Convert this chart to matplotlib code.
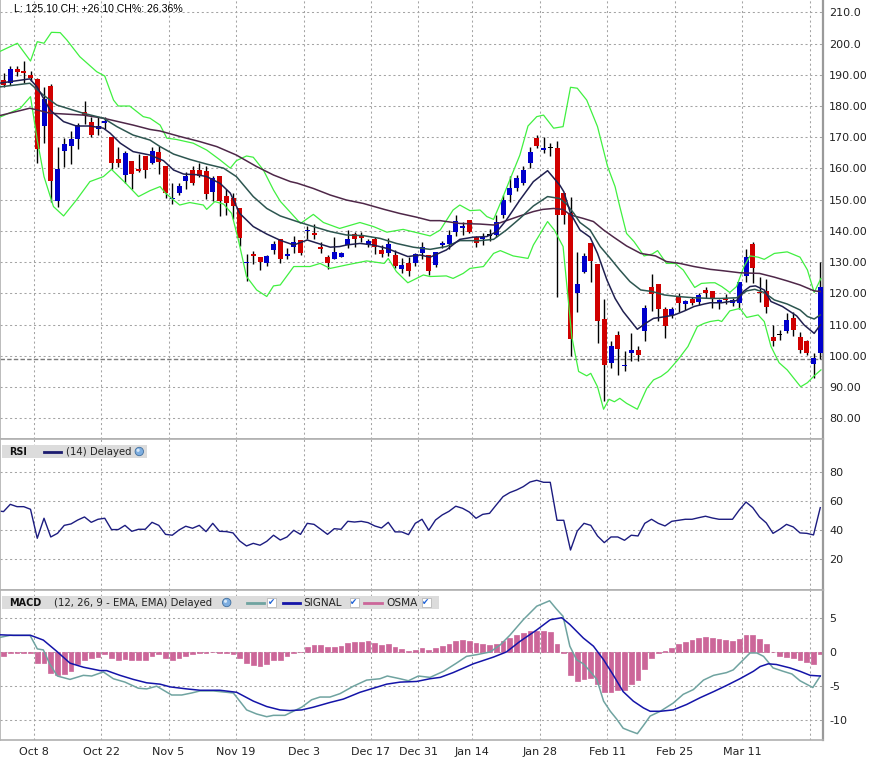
import matplotlib
matplotlib.use('Agg')
import matplotlib.pyplot as plt
from matplotlib.patches import Rectangle, Circle
import numpy as np

# ---------------- data ----------------
opens = [188.2,187.3,191.9,191.3,189.8,188.7,173.7,186.4,149.7,165.7,
         167.3,169.5,178.0,174.9,172.8,174.7,170.2,163.0,158.0,162.4,
         159.8,164.1,161.9,165.3,160.9,150.1,152.3,156.0,159.5,159.5,
         159.2,152.6,157.7,151.2,150.6,147.4,129.6,132.6,131.5,129.8,
         133.9,137.3,132.0,134.9,137.1,139.9,139.2,134.9,131.5,131.1,
         131.8,135.6,138.9,138.4,135.5,137.3,133.9,132.8,132.2,127.9,
         129.6,129.6,132.8,132.2,129.1,135.5,135.9,139.8,140.9,143.5,
         138.0,137.3,138.7,138.6,145.1,151.5,153.9,155.5,161.7,169.9,
         166.0,166.7,166.7,152.3,145.6,120.2,126.9,136.0,129.4,111.7,
         97.8,106.7,96.6,100.8,101.9,108.1,122.2,123.0,114.9,113.1,
         119.2,116.7,118.1,117.4,121.1,120.8,117.2,118.2,117.0,116.8,
         125.7,135.7,120.6,120.9,106.0,106.9,108.0,112.0,106.0,104.8,
         97.4,101.0]
highs = [190.5,192.8,192.8,194.4,191.3,189.0,186.0,187.1,167.0,169.9,
         172.0,174.7,181.7,176.6,176.6,176.6,170.2,167.0,165.7,162.4,
         164.5,164.1,167.0,167.3,160.9,155.4,155.5,158.8,160.9,161.8,
         160.9,157.7,157.7,153.4,152.0,147.4,132.6,133.7,131.5,132.3,
         136.8,137.5,134.4,138.4,137.1,141.6,142.2,136.3,132.3,138.2,
         133.4,140.3,139.8,139.7,137.3,137.9,135.4,137.7,133.9,131.2,
         131.5,132.8,136.3,132.2,133.4,136.9,140.3,145.1,143.0,143.5,
         138.4,139.2,140.5,145.0,151.5,157.6,157.9,160.9,167.0,170.7,
         170.2,168.1,168.9,152.3,151.0,133.2,132.8,136.0,129.4,118.1,
         104.6,108.0,101.4,107.2,103.0,116.3,126.2,123.0,115.8,115.5,
         120.0,117.9,119.0,120.0,122.0,120.8,118.1,119.7,118.4,123.7,
         134.1,136.4,125.2,124.5,110.0,108.3,113.6,114.2,107.5,105.1,
         100.8,130.2]
lows = [186.0,186.6,189.6,187.5,188.1,161.9,168.0,149.4,147.8,160.6,
        161.4,166.3,174.3,170.2,170.8,172.6,159.8,160.6,155.5,153.3,
        159.0,156.8,161.4,158.3,150.5,148.6,151.6,153.4,154.7,157.2,
        150.3,149.6,144.9,145.1,143.7,135.3,124.1,129.3,127.5,128.9,
        132.5,129.8,131.1,132.9,132.3,137.5,137.5,133.0,127.7,131.0,
        131.6,134.4,134.7,136.6,135.0,132.5,131.8,132.0,128.0,126.4,
        125.6,128.9,131.1,125.9,128.6,134.4,134.1,138.4,138.6,139.2,
        135.0,135.5,136.8,138.0,144.0,149.4,152.9,154.7,160.0,166.7,
        165.1,164.1,118.8,142.2,100.0,114.2,126.6,123.8,104.2,85.7,
        96.2,94.0,95.3,98.5,98.5,104.9,114.5,111.3,105.8,112.0,
        114.2,114.7,116.3,116.3,118.4,115.2,114.9,116.6,116.0,115.0,
        123.8,123.3,117.4,113.6,103.0,105.1,107.2,106.2,100.8,100.3,
        93.0,98.9]
closes = [186.8,191.9,191.0,190.7,189.0,166.3,182.3,156.1,159.8,167.8,
          169.4,173.9,177.2,170.8,173.7,175.2,161.9,161.9,164.9,158.3,
          159.3,159.5,165.6,162.1,152.1,150.6,154.4,157.7,155.5,157.6,
          151.7,157.0,149.7,149.0,148.1,137.6,130.2,132.0,130.2,132.0,
          135.9,131.1,132.6,136.4,133.0,140.3,138.7,134.3,129.6,133.2,
          132.8,137.3,137.5,137.8,136.8,134.8,132.6,135.9,128.9,129.0,
          127.3,132.5,135.0,127.3,133.2,136.2,138.7,143.2,141.6,139.8,
          136.0,138.0,138.7,142.8,149.9,153.6,156.9,159.5,165.3,167.3,
          166.7,166.7,145.1,145.1,105.5,123.0,132.0,130.5,111.0,97.2,
          103.0,102.1,97.1,101.9,100.4,115.2,119.8,114.9,109.4,114.9,
          116.8,117.6,117.0,119.5,120.2,118.6,117.9,117.9,117.9,123.7,
          131.5,128.0,120.0,115.8,104.6,106.9,111.5,108.3,101.9,100.8,
          99.2,122.2]
prev_close = 99.0

# Bollinger upper / lower (index position, price)
bb_up_x = [-1.0,2.05,4.0,5.0,6.0,7.1,8.4,9.4,11.3,13.8,15.0,16.3,17.0,18.7,20.7,21.7,23.2,24.2,25.6,28.1,
           30.1,32.1,33.6,34.5,36.0,37.0,38.5,40.0,41.0,44.0,45.9,47.4,49.8,52.8,54.8,56.8,59.2,61.7,63.2,64.7,
           66.6,67.6,69.1,70.6,71.6,72.6,73.6,75.0,76.5,77.7,79.0,80.0,81.5,82.9,84.0,85.0,86.4,88.0,89.5,90.6,
           91.3,92.3,93.4,94.9,96.1,96.9,98.2,99.5,100.7,102.4,103.4,104.7,105.4,106.4,107.6,108.6,109.7,110.6,111.8,112.7,
           114.2,116.1,118.0,119.1,120.1,121.1]
bb_up_y = [197.0,200.1,194.4,200.6,200.1,203.6,203.5,201.1,195.8,191.0,189.6,181.9,180.0,180.0,176.6,176.1,173.9,169.7,169.3,168.1,
           165.9,162.7,160.1,162.5,164.0,163.6,159.5,153.1,149.5,142.4,145.3,142.7,140.8,142.7,141.4,139.6,140.5,139.2,138.4,140.3,
           146.7,148.3,146.5,146.7,144.6,143.7,148.8,156.3,164.3,173.6,176.6,177.1,172.9,173.4,186.0,185.7,181.9,173.4,160.6,154.2,
           147.8,139.2,136.6,132.0,132.6,133.7,129.6,129.6,127.5,121.9,123.2,123.4,123.4,122.2,120.3,122.2,128.6,132.0,131.6,130.9,
           132.8,133.3,131.6,127.5,120.3,124.8]
bb_lo_x = [-1.0,2.5,4.0,5.0,6.0,7.4,8.9,10.8,12.8,14.8,16.0,18.0,20.0,21.7,23.2,24.0,25.2,26.1,27.6,29.6,
           30.1,31.3,32.6,33.8,34.8,36.0,37.5,39.0,40.0,41.0,43.0,45.4,46.9,48.4,50.8,53.8,56.4,57.0,58.2,59.9,
           62.2,63.2,65.6,66.6,68.1,69.1,71.1,72.6,73.6,75.5,77.7,78.5,80.6,81.6,82.9,84.2,85.2,86.4,87.0,88.0,
           88.9,89.7,90.5,91.3,92.3,93.9,95.3,96.3,97.4,98.4,99.9,101.4,102.8,103.8,104.7,105.9,106.4,107.6,109.1,110.1,
           111.8,112.7,113.7,114.9,116.1,117.5,118.1,119.1,120.1,121.1]
bb_lo_y = [176.0,179.3,183.0,169.1,157.4,147.8,144.8,149.9,155.8,157.4,159.7,155.5,151.0,152.9,154.2,152.1,149.9,148.3,149.1,148.3,
           146.9,149.4,148.6,145.6,137.1,125.4,121.1,119.0,122.4,122.7,128.6,128.6,129.6,128.0,129.1,130.4,129.6,131.2,127.0,123.4,
           125.9,125.4,125.6,124.8,126.4,128.0,128.6,132.8,133.7,132.0,131.2,135.5,143.0,140.3,135.0,106.0,95.0,93.6,94.4,90.1,
           82.9,86.1,85.3,86.4,84.8,82.9,89.6,92.3,93.4,95.0,98.7,103.0,109.4,110.4,111.0,111.4,111.0,114.4,115.2,112.3,
           113.1,111.0,103.0,97.8,95.5,91.7,90.1,91.4,93.6,95.5]
# Bollinger middle (navy)
mid_x = [-1.0,3.9,5.0,6.9,8.9,10.8,12.8,14.8,15.8,17.3,19.2,21.7,23.7,25.2,26.7,28.7,30.1,32.1,33.6,35.0,
         37.0,39.0,41.0,43.0,45.0,46.9,48.4,49.8,50.8,52.8,54.8,56.8,58.7,59.9,61.7,63.2,65.6,67.6,69.6,71.6,
         73.1,74.5,76.5,78.5,80.6,82.4,83.0,84.0,85.4,86.9,88.0,89.4,90.6,91.8,93.2,93.9,95.1,96.3,97.9,99.4,
         100.9,102.3,103.8,104.7,106.4,108.6,109.6,110.6,111.4,112.7,113.7,115.4,117.5,118.6,120.1,121.0]
mid_y = [187.2,188.7,186.0,178.7,175.0,173.6,173.6,172.9,171.3,168.1,165.4,164.3,162.5,159.5,158.2,158.0,157.4,155.2,152.1,145.6,
         141.4,139.0,137.0,135.5,137.1,135.8,134.8,135.0,135.5,136.0,135.5,134.4,132.8,131.8,132.3,131.6,133.9,137.3,138.0,138.2,
         139.8,143.5,149.9,155.8,159.3,154.7,152.6,145.6,140.3,138.0,132.8,124.3,118.4,114.2,110.4,108.5,110.4,112.0,112.5,113.1,
         114.4,115.8,116.6,117.0,117.0,117.7,120.6,122.2,122.4,121.1,117.4,115.8,112.8,109.9,107.2,109.9]
# second moving average (dark teal)
ma2_x = [-1.0,3.9,5.9,7.9,11.8,14.8,16.8,19.2,21.7,23.2,25.2,27.6,30.1,32.6,34.5,37.0,39.0,41.0,43.5,45.9,
         48.4,50.8,53.3,55.8,58.2,60.7,63.2,65.6,67.6,70.6,72.6,74.5,76.5,78.5,80.6,82.4,83.4,84.5,85.4,86.9,
         88.4,89.9,91.3,92.8,94.4,96.1,97.9,99.9,102.3,104.7,106.4,108.6,110.1,111.3,112.7,114.2,116.1,118.0,119.1,120.1,
         121.0]
ma2_y = [186.0,187.3,183.5,180.3,177.7,176.1,173.4,170.7,169.1,167.0,164.6,162.9,161.4,160.1,157.4,151.0,147.2,144.8,143.0,141.4,
         139.8,138.7,138.5,137.6,136.0,134.8,134.1,135.0,136.9,136.9,137.3,140.3,144.0,148.0,151.0,150.4,148.6,145.6,142.7,140.3,
         135.0,131.2,127.5,123.8,121.1,120.6,119.5,119.0,118.6,118.4,118.4,118.6,120.8,121.3,120.3,117.9,116.6,114.7,112.6,111.8,
         113.1]
# long moving average (plum)
ma3_x = [-1.0,3.9,6.9,11.8,14.8,19.2,21.7,23.2,26.2,29.1,31.6,34.5,37.5,40.0,42.5,43.5,45.9,48.4,50.8,53.3,
         56.4,58.7,61.2,63.2,64.7,67.6,70.6,72.6,74.5,76.5,78.5,79.9,81.5,82.9,84.0,85.9,87.4,88.9,90.4,92.3,
         94.4,96.6,98.2,100.2,102.3,104.7,106.4,109.1,112.0,114.2,116.1,118.0,120.1,121.0]
ma3_y = [176.7,179.3,177.7,177.1,176.1,173.9,172.5,172.0,170.2,168.6,167.0,164.3,160.6,157.9,155.8,155.3,153.6,151.5,149.9,148.8,
         146.9,145.6,144.4,143.3,143.3,142.4,142.2,141.9,143.3,144.8,146.2,146.9,147.2,146.9,145.1,144.0,143.0,140.3,138.0,135.2,
         132.8,132.0,130.2,129.6,128.6,127.7,127.3,126.6,126.4,125.2,124.0,122.7,120.8,120.6]

# RSI (14)
rsi = [52.9,57.9,56.3,56.3,54.5,34.5,48.3,35.4,37.9,43.4,
       44.4,47.1,49.2,45.5,47.6,48.3,40.5,40.5,43.4,39.3,
       40.7,40.7,45.5,43.4,37.2,36.6,40.2,42.8,41.4,43.4,
       39.1,44.8,39.3,39.1,38.2,32.6,29.2,31.0,29.7,32.4,
       36.6,33.3,35.4,40.0,37.2,44.8,44.1,40.7,37.2,41.1,
       40.7,46.2,45.7,46.2,45.3,43.0,41.6,45.5,38.9,38.9,
       37.0,44.8,47.6,40.0,47.1,50.6,53.1,56.6,55.2,52.6,
       48.3,51.0,51.7,57.5,63.2,66.0,67.8,70.1,73.3,74.5,
       73.1,73.1,46.9,46.9,26.4,39.5,44.8,43.4,36.1,31.5,
       35.4,35.4,33.1,36.6,36.1,44.8,47.6,44.8,43.0,46.2,
       46.9,47.6,47.6,48.7,49.7,48.5,47.6,47.6,47.6,54.0,
       59.5,55.6,49.2,45.1,37.9,40.7,44.1,42.3,38.2,37.9,
       36.8,55.6]

# MACD (12,26,9): OSMA histogram per session
osma = [-0.5,-0.05,-0.05,-0.05,-0.05,-1.6,-1.6,-3.0,-3.4,-3.2,
        -2.7,-1.8,-1.2,-0.9,-0.7,-0.2,-0.9,-1.2,-1.0,-1.2,
        -1.2,-1.1,-0.5,-0.3,-0.8,-1.1,-0.9,-0.5,-0.25,-0.15,
        -0.05,0.1,-0.1,-0.15,-0.2,-0.9,-1.6,-1.9,-2.0,-1.8,
        -1.2,-1.1,-0.6,-0.1,0.05,0.8,1.1,1.1,0.8,0.8,
        1.0,1.3,1.5,1.5,1.6,1.4,1.1,1.2,0.8,0.5,
        0.25,0.4,0.6,0.4,0.6,0.9,1.2,1.7,1.8,1.7,
        1.4,1.2,1.1,1.2,1.7,2.1,2.6,2.9,3.1,3.2,
        3.1,3.0,1.2,-0.1,-3.4,-4.2,-3.9,-3.8,-4.7,-5.85,
        -5.85,-5.6,-5.5,-4.7,-4.1,-2.5,-0.8,-0.1,0.15,0.6,
        1.2,1.5,1.8,2.1,2.3,2.1,2.0,1.8,1.7,2.0,
        2.6,2.6,2.0,1.2,0.0,-0.5,-0.7,-0.8,-1.2,-1.5,
        -1.7,-0.25]
macd_x = [-1.0,0.96,3.93,5.01,5.9,6.89,7.98,9.85,11.83,13.06,14.79,16.27,18.0,19.98,21.21,22.69,24.91,26.4,27.88,29.11,
          31.09,33.06,34.05,36.02,37.5,38.99,39.98,41.7,42.94,44.17,45.65,46.89,48.37,49.85,51.83,53.8,55.78,56.86,58.74,59.98,
          61.46,63.19,65.2,67.1,68.6,70.1,72.1,73.6,75.0,77.0,79.0,80.9,81.9,82.9,83.9,84.9,85.9,86.9,87.9,88.9,
          89.9,90.8,91.8,92.8,93.9,94.8,95.8,97.3,99.2,100.7,102.2,103.7,105.2,107.1,108.1,109.1,110.6,111.6,112.6,114.0,
          115.5,116.8,118.0,119.9,121.0]
macd_y = [2.1,2.5,2.5,0.5,0.35,-1.8,-3.5,-4.0,-3.4,-3.5,-2.9,-3.9,-4.4,-5.3,-5.4,-5.0,-6.3,-6.3,-6.0,-5.7,
          -5.7,-5.9,-6.0,-8.5,-9.1,-9.5,-9.3,-9.3,-8.7,-8.1,-7.0,-6.6,-6.6,-6.1,-5.0,-4.1,-3.9,-3.5,-3.9,-4.2,
          -3.5,-3.7,-2.8,-1.6,-0.6,-0.35,0.05,1.1,2.5,4.8,6.8,7.6,6.4,5.3,0.9,-1.1,-1.7,-2.8,-4.0,-7.2,
          -8.7,-9.8,-11.2,-11.6,-12.0,-10.8,-9.4,-8.7,-7.5,-6.2,-5.5,-4.1,-3.4,-3.0,-2.6,-1.6,-0.1,-0.1,-0.6,-2.3,
          -2.8,-3.2,-4.2,-5.2,-3.5]
signal_x = [-1.0,1.46,4.02,5.9,7.88,9.85,11.83,14.3,15.28,17.26,19.23,21.21,23.19,24.67,27.14,29.11,32.07,34.54,37.01,38.99,
            40.96,42.44,44.17,45.9,48.37,50.35,52.81,54.79,56.77,58.74,61.21,63.19,64.7,66.6,69.6,72.6,74.5,76.5,79.0,81.0,
            82.7,83.9,85.9,87.4,88.9,90.3,91.8,93.3,94.8,95.8,97.3,99.2,101.2,103.2,105.2,107.1,109.1,111.1,112.1,113.3,
            114.5,116.5,118.0,119.5,121.0]
signal_y = [2.6,2.5,2.5,1.8,0.15,-1.6,-2.2,-2.7,-2.7,-3.4,-4.0,-4.5,-4.7,-5.1,-5.4,-5.6,-5.6,-5.9,-7.2,-8.0,
            -8.5,-8.6,-8.5,-8.1,-7.4,-6.9,-5.9,-5.3,-4.7,-4.4,-4.3,-3.9,-3.7,-3.0,-1.7,-0.7,0.05,1.6,3.3,4.8,
            5.1,4.1,2.1,0.9,-1.1,-3.3,-5.8,-7.2,-8.2,-8.7,-8.7,-8.5,-7.7,-6.7,-5.8,-4.9,-3.9,-2.8,-2.1,-1.7,
            -1.8,-2.3,-2.8,-3.4,-3.5]

# x axis date labels (grid positions in session units)
date_pos = [4.45, 14.45, 24.45, 34.45, 44.45, 54.45, 61.45, 69.45, 79.45, 89.45, 99.45, 109.45, 119.45]
date_labels = ['Oct 8', 'Oct 22', 'Nov 5', 'Nov 19', 'Dec 3', 'Dec 17', 'Dec 31',
               'Jan 14', 'Jan 28', 'Feb 11', 'Feb 25', 'Mar 11', '']
price_ticks = [80, 90, 100, 110, 120, 130, 140, 150, 160, 170, 180, 190, 200, 210]
price_labels = ['80.00', '90.00', '100.00', '110.00', '120.00', '130.00', '140.00',
                '150.00', '160.00', '170.00', '180.00', '190.00', '200.0', '210.0']
rsi_ticks = [20, 40, 60, 80]
macd_ticks = [-10, -5, 0, 5]
macd_labels = ['-10', '-5', '0', '5']

# ---------------- style ----------------
W, H = 876, 765
RED = '#d00000'
BLUE = '#0000cc'
GREEN = '#40f040'
NAVY = '#202050'
TEAL = '#2d5650'
PLUM = '#4e2748'
GRID = '#a4a4a4'
SPINE = '#b0b0b0'
plt.rcParams['font.family'] = ['DejaVu Sans']

fig = plt.figure(figsize=(W / 100, H / 100), dpi=100)
fig.patch.set_facecolor('white')

def panel(top, bottom):
    return fig.add_axes([0.0, 1 - bottom / H, 823.3 / W, (bottom - top) / H])

ax = panel(0, 438.7)
axr = panel(438.7, 589.5)
axm = panel(589.5, 740.3)

XL = (-0.52, 121.45)
for a in (ax, axr, axm):
    a.set_xlim(*XL)
    a.set_xticks(date_pos)
    a.yaxis.tick_right()
    a.tick_params(axis='both', length=0, labelsize=8, colors='#222222')
    a.tick_params(axis='y', pad=4.2)
    a.grid(True, color=GRID, linestyle=(0, (2, 2.6)), linewidth=0.75)
    a.set_axisbelow(True)
    for s in a.spines.values():
        s.set_color(SPINE)
        s.set_linewidth(1.2)
    a.spines['right'].set_color('#9a9a9a')
    a.spines['right'].set_linewidth(1.6)
ax.spines['top'].set_visible(False)
ax.tick_params(axis='x', labelbottom=False)
axr.tick_params(axis='x', labelbottom=False)
axm.set_xticklabels(date_labels)
axm.tick_params(axis='x', pad=5.0)

# ---------------- main price panel ----------------
ax.set_ylim(73.47, 213.95)
ax.set_yticks(price_ticks)
ax.set_yticklabels(price_labels)

idx = np.arange(len(closes))
o = np.array(opens); c = np.array(closes); hi = np.array(highs); lo = np.array(lows)
cols = np.where(c > o, BLUE, np.where(c < o, RED, 'black'))
bh = np.abs(c - o)
bb = np.minimum(o, c)
doji = bh < 0.3
bb = np.where(doji, bb - 0.17, bb)
bh = np.where(doji, 0.34, bh)

ax.axhline(prev_close, color='#7a7a7a', linestyle=(0, (3.2, 1.6)), linewidth=1.0, zorder=1.5)
ax.vlines(idx, lo, hi, color='black', linewidth=1.0, zorder=2)
ax.bar(idx, bh, bottom=bb, width=0.74, color=cols, linewidth=0, zorder=3)

ax.plot(bb_up_x, bb_up_y, color=GREEN, linewidth=0.9, zorder=4)
ax.plot(bb_lo_x, bb_lo_y, color=GREEN, linewidth=0.9, zorder=4)
ax.plot(ma3_x, ma3_y, color=PLUM, linewidth=1.1, zorder=4)
ax.plot(ma2_x, ma2_y, color=TEAL, linewidth=1.1, zorder=4)
ax.plot(mid_x, mid_y, color=NAVY, linewidth=1.1, zorder=4)

# ---------------- RSI panel ----------------
axr.set_ylim(-0.83, 103.17)
axr.set_yticks(rsi_ticks)
axr.plot(np.concatenate([[-1.0], idx]), np.concatenate([[53.5], rsi]), color='#1c1c80', linewidth=1.0)

# ---------------- MACD panel ----------------
axm.set_ylim(-12.98, 9.26)
axm.set_yticks(macd_ticks)
axm.set_yticklabels(macd_labels)
axm.bar(idx, osma, width=0.7, color='#cc6699', edgecolor='#cc6699', linewidth=0.5, zorder=2)
axm.plot(macd_x, macd_y, color='#6fa3a0', linewidth=1.1, zorder=3)
axm.plot(signal_x, signal_y, color='#1414a8', linewidth=1.1, zorder=3)

# ---------------- overlay (headers / legends) ----------------
ov = fig.add_axes([0, 0, 1, 1], zorder=10)
ov.set_xlim(0, W)
ov.set_ylim(H, 0)
ov.axis('off')
ov.patch.set_alpha(0)

ov.text(14, 9.0, 'L: 125.10 CH: +26.10 CH%: 26.36%', fontsize=7.6,
        family='Liberation Sans', va='center', ha='left', color='#000000')

def globe(cx, cy):
    ov.add_patch(Circle((cx, cy), 4.2, facecolor='#7eaee0', edgecolor='#3f6e9e', linewidth=0.6))
    ov.add_patch(Circle((cx - 1.2, cy - 1.2), 1.6, facecolor='#d6e8f8', edgecolor='none'))

def checkbox(cx, cy):
    ov.add_patch(Rectangle((cx - 4.5, cy - 4.5), 9, 9, facecolor='white', edgecolor='#b8b8b8', linewidth=0.6))
    ov.text(cx, cy + 0.3, '\u2714', fontsize=6.2, color='#1f62d6', ha='center', va='center')

# RSI legend
ry = 451.5
ov.add_patch(Rectangle((1.7, 445.3), 145.0, 12.4, facecolor='#dcdcdc', edgecolor='none'))
ov.text(9.3, ry, 'RSI', fontsize=6.9, fontweight='bold', va='center', ha='left', color='#111111')
ov.plot([44.3, 61.0], [ry, ry], color='#1c1c70', linewidth=2.0)
ov.text(65.7, ry, '(14) Delayed', fontsize=7.3, va='center', ha='left', color='#222222')
globe(139.3, ry)

# MACD legend
my = 602.5
ov.add_patch(Rectangle((1.7, 596.3), 437.0, 12.4, facecolor='#dcdcdc', edgecolor='none'))
ov.text(9.3, my, 'MACD', fontsize=6.9, fontweight='bold', va='center', ha='left', color='#111111')
ov.text(54.3, my, '(12, 26, 9 - EMA, EMA) Delayed', fontsize=7.3, va='center', ha='left', color='#222222')
globe(226.7, my)
ov.plot([246.7, 264.0], [my, my], color='#6fa3a0', linewidth=2.0)
checkbox(271.7, my)
ov.plot([282.7, 300.0], [my, my], color='#1414a8', linewidth=2.0)
ov.text(303.3, my, 'SIGNAL', fontsize=7.6, va='center', ha='left', color='#222222')
checkbox(354.0, my)
ov.plot([364.0, 381.7], [my, my], color='#cc6699', linewidth=2.0)
ov.text(386.0, my, 'OSMA', fontsize=7.6, va='center', ha='left', color='#222222')
checkbox(426.0, my)

fig.savefig('out.png', dpi=100, facecolor='white')
